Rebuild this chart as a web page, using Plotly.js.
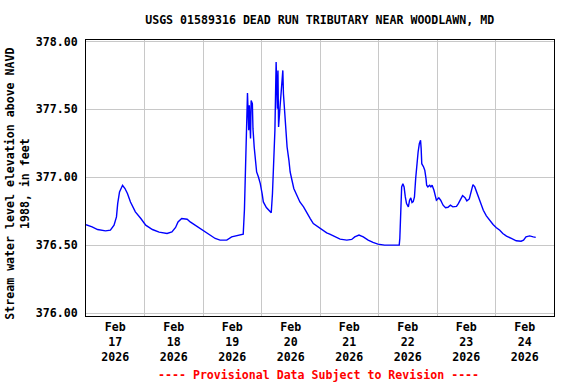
<!DOCTYPE html>
<html>
<head>
<meta charset="utf-8">
<script src="https://cdn.plot.ly/plotly-3.0.1.min.js"></script>
<style>html,body{margin:0;padding:0;background:#fff;}#chart{width:576px;height:384px;}</style>
</head>
<body>
<div id="chart"></div>
<script>
const titleText = "USGS 01589316 DEAD RUN TRIBUTARY NEAR WOODLAWN, MD";
const yTitle = "Stream water level elevation above NAVD<br>1988, in feet";
const footerText = "---- Provisional Data Subject to Revision ----";
const yTickVals = [376.0, 376.5, 377.0, 377.5, 378.0];

const times = [
"2026-02-17 00:00","2026-02-17 02:30","2026-02-17 04:45","2026-02-17 08:00","2026-02-17 10:00",
"2026-02-17 11:30","2026-02-17 12:30","2026-02-17 13:00","2026-02-17 13:45","2026-02-17 15:00",
"2026-02-17 16:00","2026-02-17 17:00","2026-02-17 18:15","2026-02-17 20:15","2026-02-17 22:30",
"2026-02-18 00:30","2026-02-18 03:15","2026-02-18 06:00","2026-02-18 09:15","2026-02-18 11:15",
"2026-02-18 12:45","2026-02-18 13:45","2026-02-18 15:15","2026-02-18 17:30","2026-02-18 18:45",
"2026-02-18 20:45","2026-02-18 23:30","2026-02-19 02:15","2026-02-19 05:00","2026-02-19 07:00",
"2026-02-19 09:45","2026-02-19 11:45","2026-02-19 14:00","2026-02-19 16:30","2026-02-19 17:00",
"2026-02-19 17:30","2026-02-19 18:00","2026-02-19 18:15","2026-02-19 18:45","2026-02-19 19:00",
"2026-02-19 19:30","2026-02-19 19:45","2026-02-19 20:15","2026-02-19 20:30","2026-02-19 21:00",
"2026-02-19 21:30","2026-02-19 22:00","2026-02-19 22:45","2026-02-19 23:30","2026-02-20 00:15",
"2026-02-20 00:45","2026-02-20 02:00","2026-02-20 03:00","2026-02-20 04:00","2026-02-20 04:30",
"2026-02-20 05:00","2026-02-20 05:15","2026-02-20 05:30","2026-02-20 06:00","2026-02-20 06:30",
"2026-02-20 06:45","2026-02-20 07:00","2026-02-20 07:30","2026-02-20 08:00","2026-02-20 08:30",
"2026-02-20 08:45","2026-02-20 09:00","2026-02-20 09:45","2026-02-20 10:00","2026-02-20 10:30",
"2026-02-20 11:15","2026-02-20 11:45","2026-02-20 12:30","2026-02-20 13:15","2026-02-20 14:30",
"2026-02-20 15:45","2026-02-20 17:15","2026-02-20 18:30","2026-02-20 20:00","2026-02-20 21:15",
"2026-02-20 22:45","2026-02-21 00:45","2026-02-21 02:45","2026-02-21 04:00","2026-02-21 06:15",
"2026-02-21 08:15","2026-02-21 11:00","2026-02-21 13:00","2026-02-21 14:15","2026-02-21 16:00",
"2026-02-21 17:45","2026-02-21 19:45","2026-02-21 21:45","2026-02-21 23:45","2026-02-22 02:30",
"2026-02-22 05:15","2026-02-22 08:30","2026-02-22 08:45","2026-02-22 09:15","2026-02-22 09:30",
"2026-02-22 10:00","2026-02-22 10:30","2026-02-22 11:00","2026-02-22 11:30","2026-02-22 12:15",
"2026-02-22 12:45","2026-02-22 13:15","2026-02-22 13:45","2026-02-22 14:15","2026-02-22 14:45",
"2026-02-22 15:15","2026-02-22 15:45","2026-02-22 16:15","2026-02-22 16:45","2026-02-22 17:15",
"2026-02-22 17:30","2026-02-22 17:45","2026-02-22 18:30","2026-02-22 19:00","2026-02-22 19:30",
"2026-02-22 19:45","2026-02-22 20:15","2026-02-22 21:00","2026-02-22 21:30","2026-02-22 22:00",
"2026-02-22 22:45","2026-02-22 23:15","2026-02-22 23:45","2026-02-23 00:45","2026-02-23 01:30",
"2026-02-23 02:30","2026-02-23 03:30","2026-02-23 04:30","2026-02-23 05:30","2026-02-23 06:30",
"2026-02-23 08:00","2026-02-23 08:45","2026-02-23 09:45","2026-02-23 10:30","2026-02-23 11:30",
"2026-02-23 12:15","2026-02-23 13:15","2026-02-23 14:00","2026-02-23 14:45","2026-02-23 15:30",
"2026-02-23 16:15","2026-02-23 17:15","2026-02-23 18:15","2026-02-23 19:00","2026-02-23 20:15",
"2026-02-23 21:30","2026-02-23 23:00","2026-02-24 00:15","2026-02-24 01:45","2026-02-24 03:00",
"2026-02-24 04:30","2026-02-24 06:30","2026-02-24 08:30","2026-02-24 10:30","2026-02-24 11:30",
"2026-02-24 12:30","2026-02-24 14:00","2026-02-24 15:30","2026-02-24 16:30"
];

const levels = [
376.65,376.635,376.615,376.605,376.61,
376.647,376.708,376.806,376.892,376.941,
376.917,376.88,376.818,376.745,376.696,
376.647,376.615,376.596,376.586,376.598,
376.63,376.671,376.696,376.691,376.671,
376.647,376.615,376.586,376.549,376.537,
376.537,376.561,376.571,376.581,376.762,
377.204,377.542,377.62,377.346,377.53,
377.285,377.566,377.542,377.358,377.223,
377.149,377.039,377.002,376.953,376.88,
376.818,376.777,376.757,376.738,376.88,
377.101,377.113,377.346,377.848,377.505,
377.787,377.37,377.493,377.64,377.787,
377.787,377.615,377.443,377.321,377.223,
377.125,377.039,376.978,376.917,376.868,
376.818,376.782,376.738,376.696,376.659,
376.64,376.61,376.59,376.581,376.561,
376.544,376.537,376.542,376.561,376.574,
376.561,376.537,376.52,376.507,376.50,
376.50,376.50,376.55,376.745,376.929,
376.953,376.929,376.855,376.806,376.782,
376.831,376.848,376.814,376.82,376.855,
376.99,377.10,377.186,377.248,377.272,
377.211,377.10,377.076,377.051,376.99,
376.941,376.929,376.941,376.929,376.941,
376.904,376.855,376.831,376.848,376.831,
376.794,376.775,376.779,376.794,376.782,
376.785,376.806,376.843,376.865,376.85,
376.826,376.84,376.904,376.946,376.929,
376.892,376.855,376.806,376.757,376.716,
376.684,376.652,376.63,376.61,376.586,
376.566,376.549,376.532,376.529,376.537,
376.561,376.568,376.561,376.557
];

const FONT = "DejaVu Sans Mono";
const baseFont = {family: FONT, size: 11.6, color: "#000", weight: "bold"};

const trace = {
  x: times, y: levels, type: "scatter", mode: "lines",
  line: {color: "#0000FF", width: 1.4}, hoverinfo: "skip"
};

const layout = {
  width: 576, height: 384,
  margin: {l: 86, r: 22, t: 40, b: 68, pad: 0},
  paper_bgcolor: "#fff", plot_bgcolor: "#fff",
  showlegend: false,
  font: baseFont,
  title: {text: titleText, font: baseFont, x: 0.555, xanchor: "center", y: 0.948, yanchor: "middle"},
  xaxis: {
    type: "date",
    range: ["2026-02-17 00:00", "2026-02-25 00:00"],
    tick0: "2026-02-17 00:00", dtick: 86400000,
    ticklabelmode: "period",
    tickformat: "%b<br>%d<br>%Y",
    showgrid: true, gridcolor: "#C8C8C8", gridwidth: 1,
    showline: true, mirror: true, linecolor: "#000", linewidth: 1,
    ticks: "", zeroline: false, tickfont: baseFont, automargin: false
  },
  yaxis: {
    range: [375.978, 378.011],
    tickvals: yTickVals, tickformat: ".2f",
    showgrid: true, gridcolor: "#C8C8C8", gridwidth: 1,
    showline: true, mirror: true, linecolor: "#000", linewidth: 1,
    ticks: "", zeroline: false, tickfont: baseFont, automargin: false,
    ticklabelstandoff: 5
  },
  annotations: [
    {text: yTitle, xref: "paper", yref: "paper", x: -0.147, y: 0.48, xanchor: "center", yanchor: "middle",
     textangle: -90, showarrow: false, font: baseFont},
    {text: footerText, xref: "paper", yref: "paper", x: 0.496, y: -0.215, xanchor: "center", yanchor: "middle",
     showarrow: false, font: {family: FONT, size: 11.6, color: "#FF0000", weight: "bold"}}
  ]
};

Plotly.newPlot("chart", [trace], layout, {displayModeBar: false, staticPlot: true});
</script>
</body>
</html>
